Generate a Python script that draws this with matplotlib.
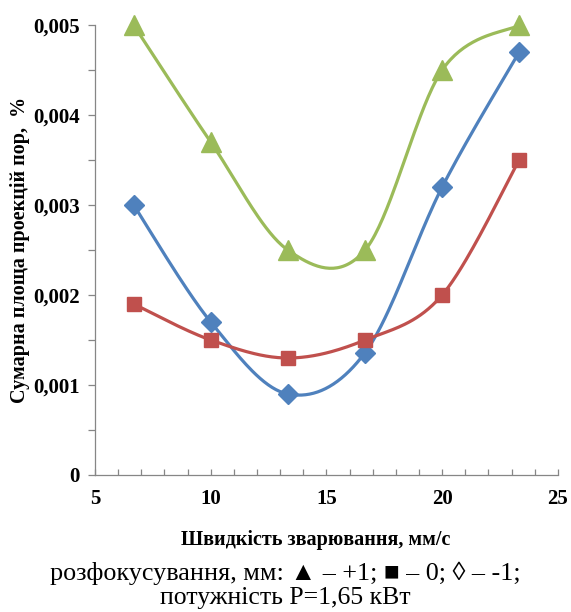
import numpy as np
import matplotlib
matplotlib.use("Agg")
import matplotlib.pyplot as plt
from matplotlib.ticker import MultipleLocator, FuncFormatter

plt.rcParams['font.family'] = ['Liberation Serif', 'DejaVu Serif']

# Дані з графіка
speed = [6.67, 10, 13.33, 16.67, 20, 23.33]
defocus_plus1 = [0.0050, 0.0037, 0.0025, 0.0025, 0.0045, 0.0050]
defocus_zero = [0.0019, 0.0015, 0.0013, 0.0015, 0.0020, 0.0035]
defocus_minus1 = [0.0030, 0.0017, 0.0009, 0.00136, 0.0032, 0.0047]

x_ticks = [5, 10, 15, 20, 25]
y_ticks = [0, 0.001, 0.002, 0.003, 0.004, 0.005]


# Згладжування як в Excel (Безьє через точки)
def smooth(xs, ys, n=40):
    p = np.column_stack([xs, ys]).astype(float)
    out = []
    for i in range(len(p) - 1):
        p0 = p[i - 1] if i > 0 else p[i]
        p3 = p[i + 2] if i + 2 < len(p) else p[i + 1]
        c1 = p[i] + (p[i + 1] - p0) / 6
        c2 = p[i + 1] - (p3 - p[i]) / 6
        t = np.linspace(0, 1, n)[:, None]
        seg = ((1 - t) ** 3) * p[i] + 3 * ((1 - t) ** 2) * t * c1 \
            + 3 * (1 - t) * t ** 2 * c2 + t ** 3 * p[i + 1]
        out.append(seg if i == 0 else seg[1:])
    s = np.vstack(out)
    return s[:, 0], s[:, 1]


fig = plt.figure(figsize=(5.71, 6.12), dpi=100)
ax = fig.add_axes([0.1664, 0.2239, 0.8106, 0.7351])

series = [
    (defocus_minus1, '#4F81BD', 'D', 10),
    (defocus_zero, '#C0504D', 's', 10.5),
    (defocus_plus1, '#9BBB59', '^', 14),
]
for ys, col, mk, ms in series:
    sx, sy = smooth(speed, ys)
    ax.plot(sx, sy, color=col, lw=2.3, clip_on=False, zorder=3)
    ax.plot(speed, ys, ls='none', marker=mk, ms=ms, color=col,
            markeredgecolor=col, clip_on=False, zorder=4)

ax.set_xlim(5, 25)
ax.set_ylim(0, 0.005)
ax.set_xticks(x_ticks)
ax.set_yticks(y_ticks)
ax.xaxis.set_minor_locator(MultipleLocator(1))
ax.yaxis.set_minor_locator(MultipleLocator(0.0005))


def fmt(v, pos):
    if abs(v) < 1e-12:
        return '0'
    return ('%.3f' % v).replace('.', ',')


ax.yaxis.set_major_formatter(FuncFormatter(fmt))

for side in ['top', 'right']:
    ax.spines[side].set_visible(False)
for side in ['left', 'bottom']:
    ax.spines[side].set_color('#868686')
    ax.spines[side].set_linewidth(0.9)

ax.tick_params(axis='x', which='both', direction='in', length=4,
               color='#868686', width=0.9, pad=10)
ax.tick_params(axis='y', which='both', direction='out', length=5,
               color='#868686', width=0.9, pad=6)
for lab in ax.get_xticklabels() + ax.get_yticklabels():
    lab.set_fontsize(15)
    lab.set_fontweight('bold')

ax.set_ylabel('Сумарна площа проекцій пор,  %', fontsize=14.5,
              fontweight='bold', labelpad=2)
fig.text(316 / 571, 1 - 545 / 612, 'Швидкість зварювання, мм/с', fontsize=14.5,
         fontweight='bold', ha='center', va='baseline')
fig.text(0.5, 1 - 580 / 612,
         'розфокусування, мм: \u25B2 \u2013 +1; \u25A0 \u2013 0; \u25CA \u2013 -1;',
         fontsize=18.8, ha='center', va='baseline',
         family=['Liberation Serif', 'DejaVu Sans'])
fig.text(0.5, 1 - 604 / 612, 'потужність P=1,65 кВт', fontsize=18.5,
         ha='center', va='baseline')

fig.savefig('out.png', dpi=100)
